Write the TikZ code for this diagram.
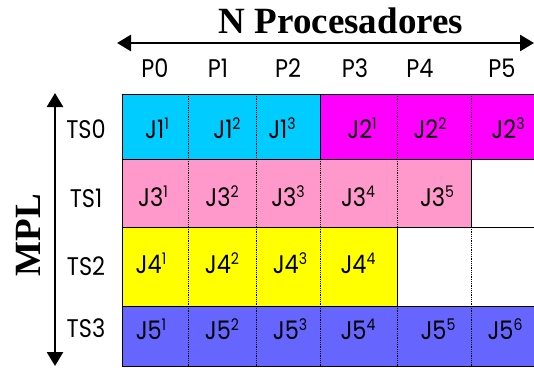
\documentclass[tikz,border=0pt]{standalone}
\usepackage{fontspec}
\setmainfont{Liberation Serif}
\newfontfamily\gothic[FakeStretch=0.88]{Poppins}
\usetikzlibrary{arrows.meta}
\definecolor{jcyan}{HTML}{00CCFF}
\definecolor{jmag}{HTML}{FF00FF}
\definecolor{jpink}{HTML}{FF99CC}
\definecolor{jyellow}{HTML}{FFFF00}
\definecolor{jblue}{HTML}{6666FF}
\newcommand{\supx}[1]{\raisebox{9pt}{\fontsize{16}{16}\selectfont #1}}
\tikzset{
  block/.style={draw=black, line width=0.8pt},
  sepline/.style={densely dotted, line width=0.8pt},
  lbl/.style={font=\gothic\fontsize{25.5}{25.5}\selectfont, inner sep=0pt, anchor=base},
  job/.style={font=\gothic\fontsize{25.5}{25.5}\selectfont, inner sep=0pt, anchor=base},
  ttl/.style={font=\bfseries\fontsize{37}{37}\selectfont, inner sep=0pt, anchor=base},
  axis/.style={line width=2.6pt, {Triangle[length=14pt,width=16pt]}-{Triangle[length=14pt,width=16pt]}},
}
\begin{document}
\begin{tikzpicture}[x=1pt,y=-1pt]
\useasboundingbox (0,0) rectangle (534,367);
% rows
\fill[jcyan] (122,94) rectangle (320,159);
\fill[jmag] (320,94) rectangle (540,159);
\fill[jpink] (122,159) rectangle (471,227);
\fill[jyellow] (122,227) rectangle (397,306);
\fill[jblue] (122,306) rectangle (540,366);
\draw[block] (122,94) rectangle (320,159);
\draw[block] (320,94) rectangle (540,159);
\draw[block] (122,159) rectangle (471,227);
\draw[block] (122,227) rectangle (397,306);
\draw[block] (122,306) rectangle (540,366);
\draw[block] (471,227) -- (540,227);
% dotted separators
\foreach \x in {188,256,397,471} \draw[sepline] (\x,94) -- (\x,159);
\foreach \x in {188,256,320,397} \draw[sepline] (\x,159) -- (\x,227);
\foreach \x in {188,256,320,471} \draw[sepline] (\x,227) -- (\x,306);
\foreach \x in {188,256,320,397,471} \draw[sepline] (\x,306) -- (\x,366);
% axes
\coordinate (hl) at (117,43);
\coordinate (hr) at (534,43);
\draw[axis] (hl) -- (hr);
\coordinate (vt) at (55,93);
\coordinate (vb) at (55,366);
\draw[axis] (vt) -- (vb);
% titles
\node[ttl] (np) at (341,33) {N Procesadores};
\node[ttl, rotate=90] (mpl) at (40,235) {MPL};
% processor labels
\node[lbl] (p0) at (155,77) {P0};
\node[lbl] (p1) at (218,77) {P1};
\node[lbl] (p2) at (288,77) {P2};
\node[lbl] (p3) at (355,77) {P3};
\node[lbl] (p4) at (420,77) {P4};
\node[lbl] (p5) at (502,77) {P5};
% time slot labels
\node[lbl] (ts0) at (86,138) {TS0};
\node[lbl] (ts1) at (86,207) {TS1};
\node[lbl] (ts2) at (86,275) {TS2};
\node[lbl] (ts3) at (86,337) {TS3};
% jobs
\node[job] (j11) at (157,138) {J1\supx{1}};
\node[job] (j12) at (227,138) {J1\supx{2}};
\node[job] (j13) at (282,138) {J1\supx{3}};
\node[job] (j21) at (362,138) {J2\supx{1}};
\node[job] (j22) at (430,138) {J2\supx{2}};
\node[job] (j23) at (508,138) {J2\supx{3}};
\node[job] (j31) at (153,206) {J3\supx{1}};
\node[job] (j32) at (222,206) {J3\supx{2}};
\node[job] (j33) at (288,206) {J3\supx{3}};
\node[job] (j34) at (358,206) {J3\supx{4}};
\node[job] (j35) at (437,206) {J3\supx{5}};
\node[job] (j41) at (151,273) {J4\supx{1}};
\node[job] (j42) at (222,273) {J4\supx{2}};
\node[job] (j43) at (290,273) {J4\supx{3}};
\node[job] (j44) at (358,273) {J4\supx{4}};
\node[job] (j51) at (151,339) {J5\supx{1}};
\node[job] (j52) at (222,339) {J5\supx{2}};
\node[job] (j53) at (290,339) {J5\supx{3}};
\node[job] (j54) at (358,339) {J5\supx{4}};
\node[job] (j55) at (438,339) {J5\supx{5}};
\node[job] (j56) at (505,339) {J5\supx{6}};
\end{tikzpicture}
\end{document}
